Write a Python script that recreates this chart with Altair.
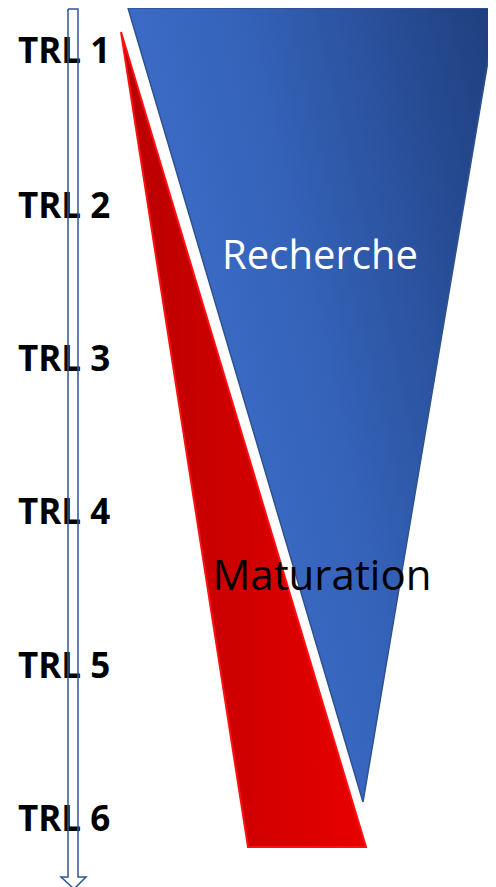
import altair as alt
import pandas as pd

# ---- data (diagram coordinates, page pixels) ----
trl_labels = ["TRL 1", "TRL 2", "TRL 3", "TRL 4", "TRL 5", "TRL 6"]
trl_pos = [52, 207, 360, 513, 667, 820]
label_x = 18

# Recherche funnel: y, left edge x, right edge x
rech_y = [8, 802]
rech_xl = [128, 363]
rech_xr = [497, 363]

# Maturation wedge
mat_y = [32, 847]
mat_xl = [121, 248]
mat_xr = [121, 366]

# TRL progression arrow outline
arrow_x = [68, 78, 78, 86, 74, 61, 68, 68]
arrow_y = [9, 9, 877, 877, 889, 877, 877, 9]

phase_labels = ["Recherche", "Maturation"]
phase_x = [320, 322]
phase_y = [257, 577]
phase_colors = ["white", "black"]
phase_sizes = [40, 42]

LEFT, TOP = 8, 8
W, H = 480, 879
xs = alt.Scale(domain=[LEFT, LEFT + W], nice=False, zero=False)
ys = alt.Scale(domain=[TOP, TOP + H], nice=False, zero=False, reverse=True)

rech = pd.DataFrame({"y": rech_y, "xl": rech_xl, "xr": rech_xr})
mat = pd.DataFrame({"y": mat_y, "xl": mat_xl, "xr": mat_xr})
arrow = pd.DataFrame({"x": arrow_x, "y": arrow_y, "i": range(len(arrow_x))})
trl = pd.DataFrame({"label": trl_labels, "y": trl_pos, "x": [label_x] * len(trl_labels)})
phase = pd.DataFrame({"label": phase_labels, "x": phase_x, "y": phase_y,
                      "c": phase_colors, "s": phase_sizes})

blue_grad = alt.Gradient(
    gradient="linear", x1=0, y1=0.5, x2=1, y2=0,
    stops=[alt.GradientStop(color="#4272d0", offset=0),
           alt.GradientStop(color="#3462b8", offset=0.45),
           alt.GradientStop(color="#1f3e7d", offset=1)],
)
red_grad = alt.Gradient(
    gradient="linear", x1=0, y1=0, x2=1, y2=0,
    stops=[alt.GradientStop(color="#b80000", offset=0),
           alt.GradientStop(color="#e80000", offset=1)],
)

blue = alt.Chart(rech).mark_area(
    orient="horizontal", color=blue_grad, stroke="#2f528f", strokeWidth=1.5
).encode(
    y=alt.Y("y:Q", scale=ys, axis=None),
    x=alt.X("xl:Q", scale=xs, axis=None),
    x2="xr:Q",
)

red = alt.Chart(mat).mark_area(
    orient="horizontal", color=red_grad, stroke="#ff1010", strokeWidth=2
).encode(
    y=alt.Y("y:Q", scale=ys, axis=None),
    x=alt.X("xl:Q", scale=xs, axis=None),
    x2="xr:Q",
)

trl_text = alt.Chart(trl).mark_text(
    align="left", baseline="middle", font="Open Sans", fontWeight="bold",
    fontSize=35, color="black"
).encode(
    x=alt.X("x:Q", scale=xs, axis=None),
    y=alt.Y("y:Q", scale=ys, axis=None),
    text="label:N",
)

arrow_line = alt.Chart(arrow).mark_line(
    color="#2f5597", strokeWidth=1.5, strokeJoin="miter"
).encode(
    x=alt.X("x:Q", scale=xs, axis=None),
    y=alt.Y("y:Q", scale=ys, axis=None),
    order="i:Q",
)

phase_text = alt.Chart(phase).mark_text(
    align="center", baseline="middle", font="Open Sans"
).encode(
    x=alt.X("x:Q", scale=xs, axis=None),
    y=alt.Y("y:Q", scale=ys, axis=None),
    text="label:N",
    color=alt.Color("c:N", scale=None),
    size=alt.Size("s:Q", scale=None),
)

chart = alt.layer(blue, red, trl_text, arrow_line, phase_text).properties(
    width=W, height=H, padding=0, autosize=alt.AutoSizeParams(type="none"),
    background="white",
).configure_view(stroke=None)

chart.save("out.html", embed_options={"renderer": "svg", "actions": False})
